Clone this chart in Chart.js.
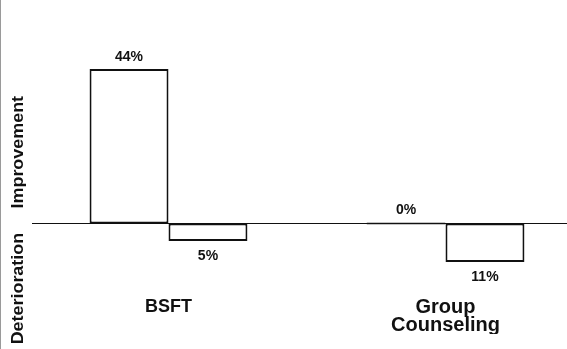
<!DOCTYPE html>
<html>
<head>
<meta charset="utf-8">
<script src="https://cdn.jsdelivr.net/npm/chart.js@4.4.1/dist/chart.umd.min.js"></script>
<style>
  html, body { margin: 0; padding: 0; background: #fff; overflow: hidden; }
  body { width: 567px; height: 349px; position: relative; }
  #wrap { position: absolute; left: 0; top: 0; width: 584px; height: 349px; }
  #edge { position: absolute; left: 0; top: 0; width: 1px; height: 349px; background: #9a9a9a; }
</style>
</head>
<body>
<div id="wrap"><canvas id="c"></canvas></div>
<div id="edge"></div>
<script>
const categories = [["BSFT"], ["Group", "Counseling"]];
const improvement = [44, 0];
const deterioration = [-5, -11];
const improvementLabels = ["44%", "0%"];
const deteriorationLabels = ["5%", "11%"];
const axisTitles = ["Improvement", "Deterioration"];

const FONT = "'Liberation Sans', Arial, Helvetica, sans-serif";

const zeroLine = {
  id: 'zeroLine',
  beforeDatasetsDraw(chart) {
    const {ctx, chartArea} = chart;
    const y = Math.round(chart.scales.y.getPixelForValue(0)) + 0.5;
    ctx.save();
    ctx.strokeStyle = '#111';
    ctx.lineWidth = 1;
    ctx.beginPath();
    ctx.moveTo(chartArea.left + 2, y);
    ctx.lineTo(chartArea.right, y);
    ctx.stroke();
    ctx.restore();
  }
};

const barLabels = {
  id: 'barLabels',
  afterDatasetsDraw(chart) {
    const {ctx} = chart;
    ctx.save();
    ctx.fillStyle = '#111';
    ctx.font = "bold 14px " + FONT;
    ctx.textAlign = 'center';
    ctx.textBaseline = 'middle';
    chart.data.datasets.forEach((ds, di) => {
      const meta = chart.getDatasetMeta(di);
      meta.data.forEach((bar, i) => {
        const v = ds.data[i];
        const text = ds.valueLabels[i];
        if (v >= 0) {
          const top = Math.min(bar.y, bar.base);
          ctx.fillText(text, bar.x, top - 12);
        } else {
          const bottom = Math.max(bar.y, bar.base);
          ctx.fillText(text, bar.x, bottom + 15);
        }
      });
    });
    ctx.restore();
  }
};

const sideTitles = {
  id: 'sideTitles',
  afterDraw(chart) {
    const {ctx} = chart;
    const ys = chart.scales.y;
    ctx.save();
    ctx.fillStyle = '#111';
    ctx.font = "bold 16px " + FONT;
    ctx.textAlign = 'center';
    ctx.textBaseline = 'middle';
    const spots = [ys.getPixelForValue(20.3), ys.getPixelForValue(-18.6)];
    axisTitles.forEach((t, i) => {
      ctx.save();
      ctx.translate(19, spots[i]);
      ctx.rotate(-Math.PI / 2);
      ctx.scale(1.12, 1);
      ctx.fillText(t, 0, 0);
      ctx.restore();
    });
    ctx.restore();
  }
};

new Chart(document.getElementById('c'), {
  type: 'bar',
  data: {
    labels: categories,
    datasets: [
      {
        label: 'Improvement',
        data: improvement,
        valueLabels: improvementLabels,
        backgroundColor: '#ffffff',
        borderColor: '#111111',
        borderWidth: 2,
        borderSkipped: false,
        minBarLength: 2
      },
      {
        label: 'Deterioration',
        data: deterioration,
        valueLabels: deteriorationLabels,
        backgroundColor: '#ffffff',
        borderColor: '#111111',
        borderWidth: 2,
        borderSkipped: false
      }
    ]
  },
  options: {
    responsive: true,
    maintainAspectRatio: false,
    animation: false,
    devicePixelRatio: 1,
    categoryPercentage: 0.57,
    barPercentage: 1.0,
    layout: { padding: { left: 30, right: 0, top: 13, bottom: 15 } },
    plugins: {
      legend: { display: false },
      tooltip: { enabled: false }
    },
    scales: {
      x: {
        grid: { display: false },
        border: { display: false },
        ticks: {
          color: '#111',
          padding: 0,
          maxRotation: 0,
          autoSkip: false,
          font: (ctx) => ctx.index === 0
            ? { family: FONT, size: 18, weight: 'bold', lineHeight: 1.0 }
            : { family: FONT, size: 20, weight: 'bold', lineHeight: 0.9 }
        }
      },
      y: {
        display: false,
        min: -19,
        max: 60
      }
    }
  },
  plugins: [zeroLine, barLabels, sideTitles]
});
</script>
</body>
</html>
